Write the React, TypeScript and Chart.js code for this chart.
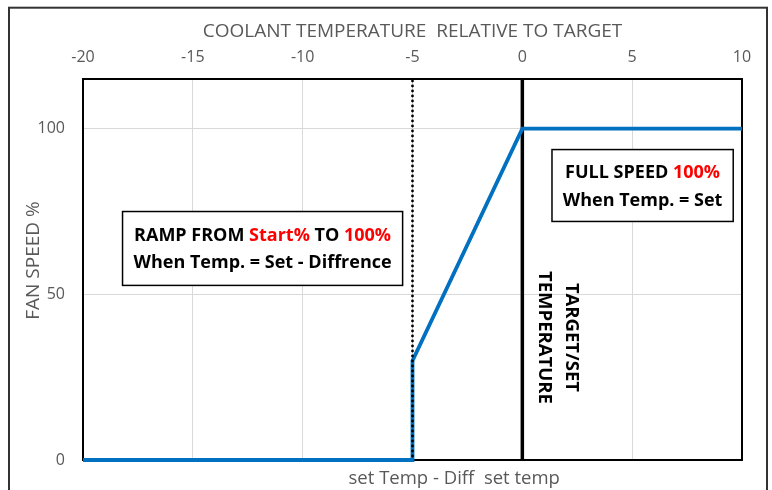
import { useEffect, useRef } from "react";
import { Chart, registerables } from "chart.js";

Chart.register(...registerables);

// ---- data ----
const TEMPERATURE_OFFSETS = [-20, -5, -5, 0, 10];
const FAN_SPEED = [0, 0, 30, 100, 100];
const X_MIN = -20;
const X_MAX = 10;
const X_STEP = 5;
const Y_MIN = 0;
const Y_MAX = 115;
const Y_TICKS = [0, 50, 100];
const X_TITLE = "COOLANT TEMPERATURE  RELATIVE TO TARGET";
const Y_TITLE = "FAN SPEED %";
const BOTTOM_LABEL = "set Temp - Diff  set temp";
const BOTTOM_LABEL_X = -3.1;
const DIFF_MARK_X = -5;
const TARGET_MARK_X = 0;

const BLACK = "#000000";
const RED = "#FF0000";
const GRAY = "#595959";
const BLUE = "#0070C0";
const FONT = "'Open Sans', 'Liberation Sans', sans-serif";

type Seg = { t: string; c: string };
const RAMP_LINES: Seg[][] = [
  [
    { t: "RAMP FROM ", c: BLACK },
    { t: "Start%", c: RED },
    { t: " TO ", c: BLACK },
    { t: "100%", c: RED },
  ],
  [{ t: "When Temp. = Set - Diffrence", c: BLACK }],
];
const FULL_LINES: Seg[][] = [
  [
    { t: "FULL SPEED ", c: BLACK },
    { t: "100%", c: RED },
  ],
  [{ t: "When Temp. = Set", c: BLACK }],
];
// boxes in data units: [xMin, xMax, yMin, yMax]
const RAMP_BOX = [-18.2, -5.45, 52.7, 75.0];
const FULL_BOX = [1.35, 9.6, 72.0, 93.7];
const TARGET_LINES = ["TARGET/SET", "TEMPERATURE"];
const TARGET_LINES_X = [2.28, 1.07];
const TARGET_LINES_Y = 37;

function drawRich(ctx: CanvasRenderingContext2D, segs: Seg[], cx: number, baseY: number) {
  const widths = segs.map((s) => ctx.measureText(s.t).width);
  const total = widths.reduce((a, b) => a + b, 0);
  let x = cx - total / 2;
  ctx.textAlign = "left";
  ctx.textBaseline = "alphabetic";
  segs.forEach((s, i) => {
    ctx.fillStyle = s.c;
    ctx.fillText(s.t, x, baseY);
    x += widths[i];
  });
}

function drawBox(chart: any, box: number[], lines: Seg[][]) {
  const { ctx, scales } = chart;
  const x1 = scales.x.getPixelForValue(box[0]);
  const x2 = scales.x.getPixelForValue(box[1]);
  const y1 = scales.y.getPixelForValue(box[3]);
  const y2 = scales.y.getPixelForValue(box[2]);
  ctx.fillStyle = "#FFFFFF";
  ctx.fillRect(x1, y1, x2 - x1, y2 - y1);
  ctx.strokeStyle = BLACK;
  ctx.lineWidth = 1.5;
  ctx.strokeRect(x1, y1, x2 - x1, y2 - y1);
  const cx = (x1 + x2) / 2;
  const cy = (y1 + y2) / 2;
  ctx.font = `bold 18px ${FONT}`;
  drawRich(ctx, lines[0], cx, cy - 7.5);
  drawRich(ctx, lines[1], cx, cy + 20);
}

const annotations = {
  id: "annotations",
  beforeDatasetsDraw(chart: any) {
    const { ctx, chartArea: a, scales } = chart;
    ctx.save();
    const px0 = scales.x.getPixelForValue(TARGET_MARK_X);
    ctx.strokeStyle = BLACK;
    ctx.lineWidth = 3.5;
    ctx.beginPath();
    ctx.moveTo(px0, a.top);
    ctx.lineTo(px0, a.bottom);
    ctx.stroke();
    ctx.lineWidth = 2;
    ctx.strokeRect(a.left, a.top, a.right - a.left, a.bottom - a.top);
    ctx.restore();
  },
  afterDatasetsDraw(chart: any) {
    const { ctx, chartArea: a, scales } = chart;
    ctx.save();
    // dotted line at set - diff
    const pd = scales.x.getPixelForValue(DIFF_MARK_X);
    ctx.strokeStyle = BLACK;
    ctx.lineWidth = 2.8;
    ctx.lineCap = "round";
    ctx.setLineDash([0, 5]);
    ctx.beginPath();
    ctx.moveTo(pd, a.top + 2);
    ctx.lineTo(pd, a.bottom);
    ctx.stroke();
    ctx.setLineDash([]);
    ctx.lineCap = "butt";

    drawBox(chart, RAMP_BOX, RAMP_LINES);
    drawBox(chart, FULL_BOX, FULL_LINES);

    // rotated target text
    ctx.font = `bold 18.5px ${FONT}`;
    ctx.fillStyle = BLACK;
    ctx.textAlign = "center";
    ctx.textBaseline = "alphabetic";
    const ty = scales.y.getPixelForValue(TARGET_LINES_Y);
    TARGET_LINES.forEach((line, i) => {
      const tx = scales.x.getPixelForValue(TARGET_LINES_X[i]);
      ctx.save();
      ctx.translate(tx - 6.6, ty);
      ctx.rotate(Math.PI / 2);
      ctx.fillText(line, 0, 0);
      ctx.restore();
    });

    // axis titles
    ctx.fillStyle = GRAY;
    ctx.font = `19px ${FONT}`;
    ctx.textAlign = "center";
    ctx.fillText(X_TITLE, (a.left + a.right) / 2, 37.4);
    ctx.save();
    ctx.translate(38.8, (a.top + a.bottom) / 2 - 9);
    ctx.rotate(-Math.PI / 2);
    ctx.fillText(Y_TITLE, 0, 0);
    ctx.restore();

    ctx.font = `18.5px ${FONT}`;
    ctx.fillText(BOTTOM_LABEL, scales.x.getPixelForValue(BOTTOM_LABEL_X), a.bottom + 23.5);

    // chart frame
    ctx.strokeStyle = "#333333";
    ctx.lineWidth = 2;
    ctx.strokeRect(9, 7.7, 758, 500);
    ctx.restore();
  },
};

export default function App() {
  const ref = useRef<HTMLCanvasElement | null>(null);
  useEffect(() => {
    if (!ref.current) return;
    const chart = new Chart(ref.current, {
      type: "scatter",
      data: {
        datasets: [
          {
            data: TEMPERATURE_OFFSETS.map((t, i) => ({ x: t, y: FAN_SPEED[i] })),
            showLine: true,
            borderColor: BLUE,
            backgroundColor: BLUE,
            borderWidth: 3.8,
            pointRadius: 0,
            tension: 0,
            fill: false,
            clip: false,
          } as any,
        ],
      },
      options: {
        animation: false,
        responsive: false,
        devicePixelRatio: 1,
        layout: { padding: { left: 0, top: 0, right: 30, bottom: 30 } },
        plugins: { legend: { display: false }, tooltip: { enabled: false } },
        scales: {
          x: {
            type: "linear",
            position: "top",
            min: X_MIN,
            max: X_MAX,
            ticks: { stepSize: X_STEP, color: GRAY, font: { family: FONT, size: 16 }, padding: 12 },
            grid: { color: "#D9D9D9", drawTicks: false, lineWidth: 1 },
            border: { display: false },
            afterFit(s: any) {
              s.height = 79;
              s.paddingLeft = 0;
              s.paddingRight = 0;
            },
          },
          y: {
            type: "linear",
            min: Y_MIN,
            max: Y_MAX,
            afterBuildTicks(s: any) {
              s.ticks = Y_TICKS.map((v) => ({ value: v }));
            },
            ticks: { color: GRAY, font: { family: FONT, size: 16 }, padding: 18 },
            grid: { color: "#D9D9D9", drawTicks: false, lineWidth: 1 },
            border: { display: false },
            afterFit(s: any) {
              s.width = 83;
              s.paddingTop = 0;
              s.paddingBottom = 0;
            },
          },
        },
      } as any,
      plugins: [annotations],
    });
    return () => chart.destroy();
  }, []);
  return (
    <div style={{ position: "absolute", left: 0, top: 0, width: 772, height: 490, background: "#fff" }}>
      <canvas ref={ref} width={772} height={490} style={{ display: "block" }} />
    </div>
  );
}
